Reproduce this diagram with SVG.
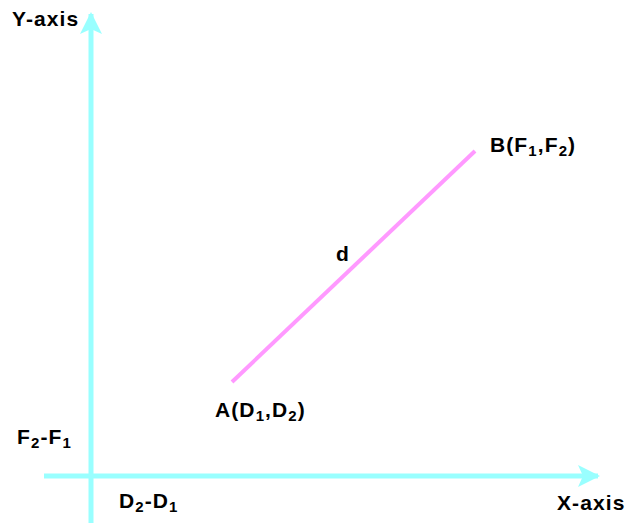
<svg xmlns="http://www.w3.org/2000/svg" width="642" height="523" viewBox="0 0 642 523">
<style>
text{font-family:"Liberation Sans",Arial,sans-serif;font-weight:bold;font-size:21px;letter-spacing:1.1px;fill:#000}
.s{font-size:15px}
.axis{stroke:#99ffff;stroke-width:5;fill:none}
</style>
<defs>
<marker id="ah" markerUnits="userSpaceOnUse" markerWidth="24" markerHeight="24" refX="20" refY="11" orient="auto">
<path d="M0,0 L22,11 L0,22 L5,11 Z" fill="#99ffff"/>
</marker>
</defs>
<rect width="642" height="523" fill="#fff"/>
<g id="connectors">
<line class="axis" x1="91" y1="523" x2="91" y2="14" marker-end="url(#ah)"/>
<line class="axis" x1="44" y1="476" x2="598" y2="476" marker-end="url(#ah)"/>
<line id="d-line" x1="232" y1="382" x2="475" y2="151" stroke="#ff99ff" stroke-width="4"/>
</g>
<g id="y-label"><text x="12" y="26">Y-axis</text></g>
<g id="x-label"><text x="557" y="510">X-axis</text></g>
<g id="b-label"><text x="490" y="152">B(F<tspan class="s" dy="4">1</tspan><tspan dy="-4">,F</tspan><tspan class="s" dy="4">2</tspan><tspan dy="-4">)</tspan></text></g>
<g id="a-label"><text x="215" y="417">A(D<tspan class="s" dy="4">1</tspan><tspan dy="-4">,D</tspan><tspan class="s" dy="4">2</tspan><tspan dy="-4">)</tspan></text></g>
<g id="d-label"><text x="336" y="261">d</text></g>
<g id="f-label"><text x="17" y="444">F<tspan class="s" dy="4">2</tspan><tspan dy="-4">-F</tspan><tspan class="s" dy="4">1</tspan></text></g>
<g id="dd-label"><text x="119" y="508">D<tspan class="s" dy="4">2</tspan><tspan dy="-4">-D</tspan><tspan class="s" dy="4">1</tspan></text></g>
</svg>
